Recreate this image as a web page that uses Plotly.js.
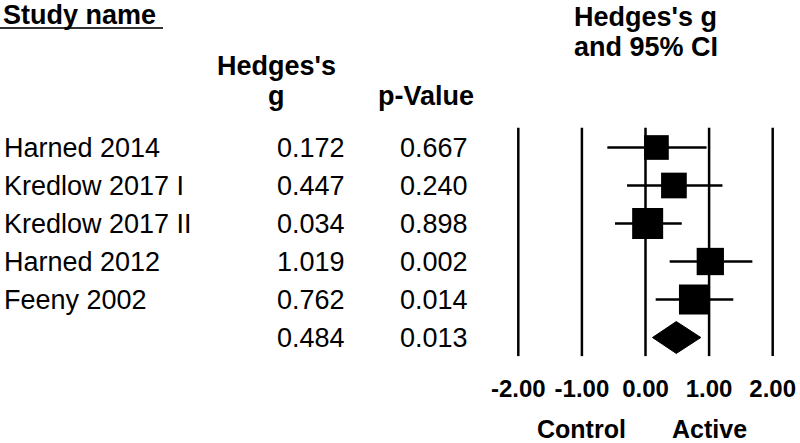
<!DOCTYPE html>
<html>
<head>
<meta charset="utf-8">
<script src="https://cdn.plot.ly/plotly-3.0.1.min.js"></script>
<style>html,body{margin:0;padding:0;background:#fff;}#chart{width:800px;height:443px;}</style>
</head>
<body>
<div id="chart"></div>
<script>
// ---- data ----
const studies = ["Harned 2014", "Kredlow 2017 I", "Kredlow 2017 II", "Harned 2012", "Feeny 2002"];
const hedgesG = [0.172, 0.447, 0.034, 1.019, 0.762];
const pValues = ["0.667", "0.240", "0.898", "0.002", "0.014"];
const ciLower = [-0.60, -0.29, -0.48, 0.38, 0.16];
const ciUpper = [0.96, 1.21, 0.57, 1.68, 1.38];
const studyWeight = [24.7, 25.7, 31, 27.3, 30];   // marker side (px) ~ relative weight
const overallG = 0.484;
const overallP = "0.013";
const overallLower = 0.11;
const overallUpper = 0.87;
const tickVals = [-2, -1, 0, 1, 2];
const tickText = ["-2.00", "-1.00", "0.00", "1.00", "2.00"];

// ---- layout helpers ----
const W = 800, H = 443;
const FONT = "Liberation Sans, Arial, sans-serif";
const px = v => v / W;
const py = v => 1 - v / H;
const rowPx = 38, row0 = 147.5;
const yTop = -row0 / rowPx, ySpan = H / rowPx;
const overallRow = studies.length;

const traces = [];
// CI lines
studies.forEach((s, i) => {
  traces.push({
    type: "scatter", mode: "lines", x: [ciLower[i], ciUpper[i]], y: [i, i],
    line: {color: "#000", width: 2.5}, hoverinfo: "skip", showlegend: false, cliponaxis: false
  });
});
// squares
traces.push({
  type: "scatter", mode: "markers", x: hedgesG, y: studies.map((s, i) => i),
  marker: {symbol: "square", size: studyWeight, color: "#000", opacity: 1, line: {width: 0}},
  showlegend: false, cliponaxis: false
});
// overall diamond
const dh = 0.42;
traces.push({
  type: "scatter", mode: "lines",
  x: [overallLower, overallG, overallUpper, overallG, overallLower],
  y: [overallRow, overallRow - dh, overallRow, overallRow + dh, overallRow],
  fill: "toself", fillcolor: "#000", line: {color: "#000", width: 1},
  showlegend: false, cliponaxis: false
});

const shapes = tickVals.map(v => ({
  type: "line", xref: "x", yref: "y", x0: v, x1: v, y0: -0.52, y1: overallRow + 0.49,
  line: {color: "#000", width: 2.5}
}));
shapes.push({type: "line", xref: "paper", yref: "paper", x0: 0, x1: px(163), y0: py(28), y1: py(28),
  line: {color: "#333", width: 2}});

const ann = [];
const bold = (size) => ({family: FONT, size: size, color: "#000", weight: "bold"});
const reg = (size) => ({family: FONT, size: size, color: "#000"});
function addPaper(text, x, y, xanchor, font) {
  ann.push({text, xref: "paper", yref: "paper", x: px(x), y: py(y), xanchor, yanchor: "middle",
    showarrow: false, font});
}
addPaper("Study name", 1, 15, "left", bold(27));
addPaper("Hedges's", 276.5, 66, "center", bold(27));
addPaper("g", 276.5, 96, "center", bold(27));
addPaper("p-Value", 426.5, 96, "center", bold(27));
ann.push({text: "Hedges's g", xref: "x", yref: "paper", x: 0, y: py(17), xanchor: "center", yanchor: "middle", showarrow: false, font: bold(27)});
ann.push({text: "and 95% CI", xref: "x", yref: "paper", x: 0, y: py(47), xanchor: "center", yanchor: "middle", showarrow: false, font: bold(27)});
ann.push({text: "Control", xref: "x", yref: "paper", x: -1, y: py(429), xanchor: "center", yanchor: "middle", showarrow: false, font: bold(25)});
ann.push({text: "Active", xref: "x", yref: "paper", x: 1, y: py(429), xanchor: "center", yanchor: "middle", showarrow: false, font: bold(25)});

studies.forEach((s, i) => {
  ann.push({text: s, xref: "paper", yref: "y", x: px(2), y: i, xanchor: "left", yanchor: "middle", showarrow: false, font: reg(27)});
  ann.push({text: hedgesG[i].toFixed(3), xref: "paper", yref: "y", x: px(347), y: i, xanchor: "right", yanchor: "middle", showarrow: false, font: reg(27)});
  ann.push({text: pValues[i], xref: "paper", yref: "y", x: px(470), y: i, xanchor: "right", yanchor: "middle", showarrow: false, font: reg(27)});
});
ann.push({text: overallG.toFixed(3), xref: "paper", yref: "y", x: px(347), y: overallRow, xanchor: "right", yanchor: "middle", showarrow: false, font: reg(27)});
ann.push({text: overallP, xref: "paper", yref: "y", x: px(470), y: overallRow, xanchor: "right", yanchor: "middle", showarrow: false, font: reg(27)});

const unit = 63.6, xPad = 0.2;
const layout = {
  width: W, height: H,
  margin: {l: 0, r: 0, t: 0, b: 0},
  paper_bgcolor: "#fff", plot_bgcolor: "#fff",
  showlegend: false,
  xaxis: {
    domain: [px(518.3 - xPad * unit), px(772.7 + xPad * unit)],
    range: [-2 - xPad, 2 + xPad],
    anchor: "free", position: py(372),
    tickvals: tickVals, ticktext: tickText, ticks: "",
    tickfont: bold(24), showgrid: false, zeroline: false, showline: false, fixedrange: true
  },
  yaxis: {
    domain: [0, 1], range: [yTop + ySpan, yTop], visible: false,
    showgrid: false, zeroline: false, fixedrange: true
  },
  shapes, annotations: ann
};
Plotly.newPlot("chart", traces, layout, {displayModeBar: false, staticPlot: true});
</script>
</body>
</html>
